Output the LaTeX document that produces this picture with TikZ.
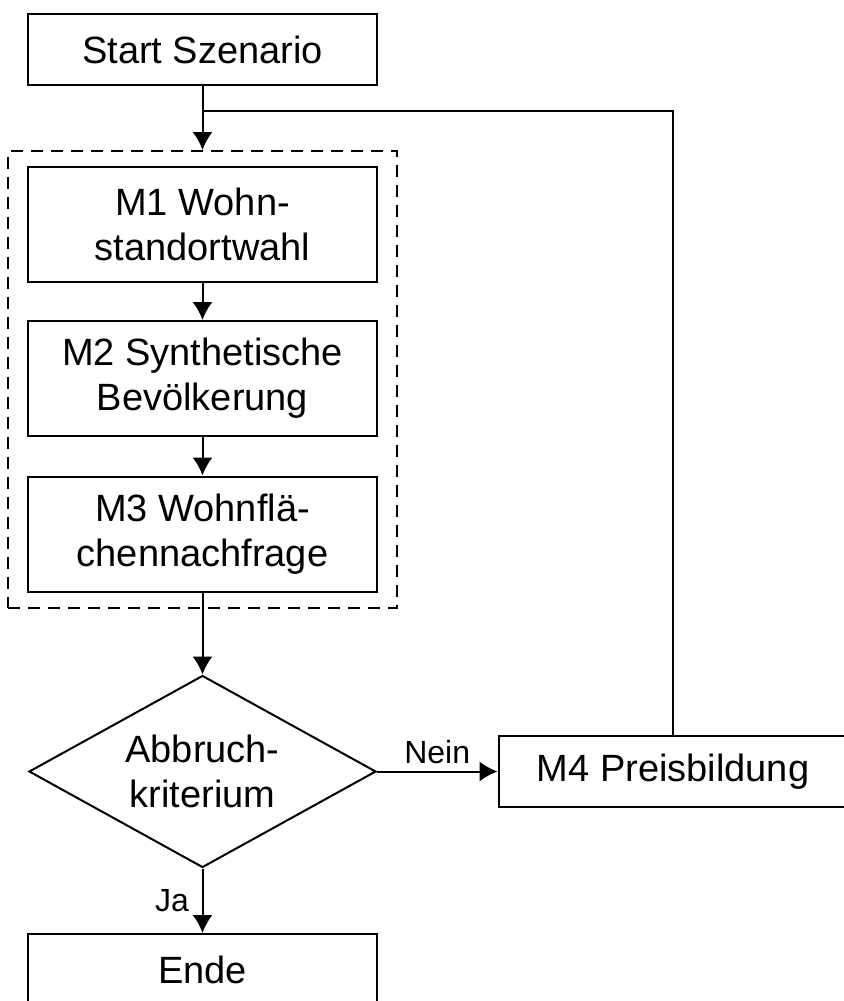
\documentclass[tikz,border=0pt]{standalone}
\usepackage{fontspec}
\setmainfont{Liberation Sans}
\usetikzlibrary{shapes.geometric,positioning,fit,arrows.meta}
\tikzset{
  modbox/.style={
      draw,
      minimum width=174.5pt,
      minimum height=57.5pt,
      align=center,
      font=\fontsize{19}{22.5}\selectfont
    },
  termbox/.style={
      modbox,
      minimum height=35.5pt
    },
  decide/.style={
      draw,
      shape=diamond,
      aspect=1.8,
      minimum width=173.5pt,
      minimum height=96pt,
      inner sep=0pt,
      align=center,
      font=\fontsize{19}{22.5}\selectfont
    },
  lbl/.style={font=\fontsize{16}{19}\selectfont}
}

\begin{document}
\begin{tikzpicture}[x=0.5pt,y=-0.5pt,>={Latex[length=9pt,width=10pt]},line width=1pt]
\clip (0,0) rectangle (844,1001);
% the shapes
\node[termbox] at (202.5,49.5) (start) {Start Szenario};
\node[modbox] at (202.5,224.5) (m1) {M1 Wohn-\\standortwahl};
\node[modbox] at (202.5,378.5) (m2) {M2 Synthetische\\Bevölkerung};
\node[modbox] at (202.5,534) (m3) {M3 Wohnflä-\\chennachfrage};
\node[draw,dashed,dash pattern=on 6pt off 4pt,inner xsep=9.5pt,inner ysep=7.5pt,fit={(m1) (m3)}] (group) {};
\node[decide] at (202.5,771.5) (crit) {Abbruch-\\kriterium};
\node[termbox] at (673,771.5) (m4) {M4 Preisbildung};
\node[termbox] at (202.5,969.5) (ende) {Ende};
\coordinate (merge) at (202.5,111);

%the arrows
\draw[->] (start.south) -- (group.north);
\draw[->] (m1) -- (m2);
\draw[->] (m2) -- (m3);
\draw[->] (m3.south) -- (crit.north);
\draw[->] (crit.east) --
    node[lbl,above] {Nein}
  (m4.west);
\draw[->] (crit.south) --
    node[lbl,left=3pt] {Ja}
  (ende.north);
\draw (m4.north) |- (merge);
\end{tikzpicture}
\end{document}
